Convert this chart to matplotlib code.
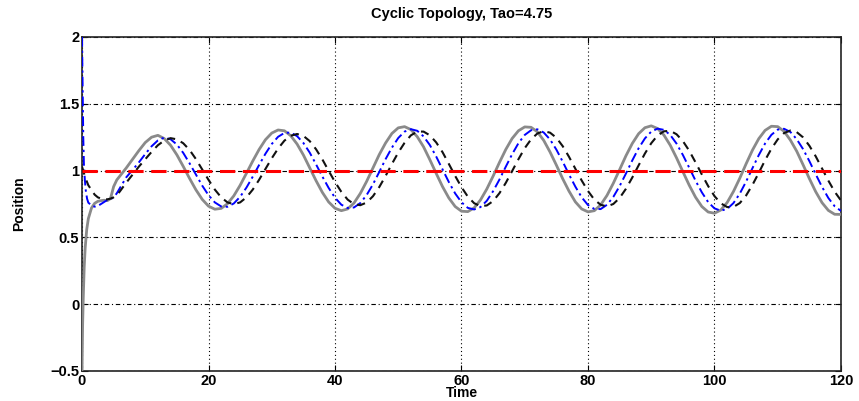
import matplotlib
matplotlib.use("Agg")
import matplotlib.pyplot as plt

plt.rcParams['font.family'] = ['Liberation Sans Narrow', 'Liberation Sans', 'DejaVu Sans']
plt.rcParams['axes.unicode_minus'] = True

# ---- data ----
time_main = list(range(8, 121))

time_early_gray = [0, 0.1, 0.2, 0.35, 0.5, 0.75, 1, 1.5, 2, 2.5, 3, 3.5, 4, 4.5, 5, 5.5, 6, 7]
pos_early_gray = [-0.5, -0.15, 0.05, 0.28, 0.42, 0.56, 0.64, 0.72, 0.755, 0.77, 0.775, 0.778,
                  0.775, 0.79, 0.88, 0.93, 0.96, 1.02]

time_early_blue = [0, 0.1, 0.2, 0.3, 0.45, 0.6, 0.8, 1, 1.5, 2, 2.5, 3, 3.5, 4, 4.5, 5, 5.5, 6, 7]
pos_early_blue = [2.0, 1.6, 1.25, 1.05, 0.93, 0.85, 0.79, 0.76, 0.74, 0.73, 0.735, 0.75, 0.765,
                  0.78, 0.785, 0.80, 0.83, 0.87, 0.95]

time_early_black = [0, 0.5, 1, 1.5, 2, 2.5, 3, 3.5, 4, 4.5, 5, 5.5, 6, 7]
pos_early_black = [1.03, 0.95, 0.89, 0.855, 0.82, 0.80, 0.79, 0.785, 0.785, 0.79, 0.80, 0.815,
                   0.845, 0.91]

pos_gray = [
    1.085, 1.150,
    1.210, 1.250, 1.264, 1.240, 1.190, 1.118, 1.032, 0.942, 0.857, 0.785,
    0.734, 0.711, 0.717, 0.752, 0.811, 0.890, 0.980, 1.072, 1.158, 1.231,
    1.281, 1.304, 1.298, 1.261, 1.199, 1.117, 1.021, 0.925, 0.837, 0.765,
    0.718, 0.700, 0.713, 0.757, 0.829, 0.919, 1.020, 1.120, 1.207, 1.278,
    1.320, 1.329, 1.307, 1.254, 1.178, 1.081, 0.979, 0.880, 0.795, 0.731,
    0.696, 0.693, 0.721, 0.780, 0.862, 0.959, 1.061, 1.158, 1.240, 1.298,
    1.327, 1.324, 1.290, 1.226, 1.139, 1.041, 0.939, 0.846, 0.766, 0.713,
    0.691, 0.700, 0.743, 0.814, 0.905, 1.007, 1.111, 1.203, 1.276, 1.321,
    1.335, 1.315, 1.266, 1.190, 1.095, 0.992, 0.891, 0.801, 0.731, 0.690,
    0.681, 0.705, 0.761, 0.844, 0.943, 1.051, 1.153, 1.239, 1.301, 1.332,
    1.329, 1.294, 1.228, 1.145, 1.044, 0.940, 0.842, 0.760, 0.702, 0.673,
    0.672,
]

pos_blue = [
    1.005, 1.062,
    1.124, 1.182, 1.226, 1.247, 1.235, 1.195, 1.133, 1.055, 0.971, 0.888,
    0.816, 0.762, 0.732, 0.729, 0.754, 0.804, 0.873, 0.955, 1.042, 1.126,
    1.199, 1.253, 1.282, 1.285, 1.258, 1.207, 1.135, 1.047, 0.956, 0.870,
    0.797, 0.745, 0.720, 0.724, 0.757, 0.817, 0.897, 0.990, 1.086, 1.172,
    1.244, 1.292, 1.310, 1.298, 1.256, 1.191, 1.105, 1.009, 0.914, 0.829,
    0.763, 0.721, 0.709, 0.727, 0.774, 0.846, 0.933, 1.029, 1.122, 1.205,
    1.267, 1.302, 1.309, 1.285, 1.233, 1.157, 1.067, 0.971, 0.880, 0.800,
    0.742, 0.713, 0.712, 0.744, 0.803, 0.884, 0.978, 1.076, 1.167, 1.241,
    1.292, 1.314, 1.305, 1.267, 1.202, 1.117, 1.022, 0.925, 0.837, 0.764,
    0.717, 0.700, 0.713, 0.757, 0.828, 0.918, 1.018, 1.116, 1.203, 1.268,
    1.307, 1.313, 1.289, 1.235, 1.161, 1.071, 0.973, 0.878, 0.795, 0.733,
    0.698,
]

pos_black = [
    0.970, 1.030,
    1.085, 1.140, 1.190, 1.225, 1.243, 1.234, 1.205, 1.155, 1.087, 1.009,
    0.931, 0.858, 0.800, 0.762, 0.749, 0.762, 0.800, 0.858, 0.931, 1.012,
    1.092, 1.165, 1.224, 1.261, 1.274, 1.260, 1.221, 1.160, 1.084, 0.998,
    0.915, 0.841, 0.783, 0.749, 0.741, 0.761, 0.808, 0.877, 0.960, 1.050,
    1.135, 1.208, 1.264, 1.292, 1.292, 1.264, 1.211, 1.138, 1.050, 0.960,
    0.876, 0.805, 0.756, 0.734, 0.739, 0.772, 0.831, 0.908, 0.996, 1.085,
    1.168, 1.234, 1.278, 1.295, 1.284, 1.246, 1.183, 1.103, 1.014, 0.926,
    0.847, 0.783, 0.744, 0.732, 0.750, 0.795, 0.864, 0.948, 1.039, 1.128,
    1.205, 1.263, 1.294, 1.298, 1.272, 1.221, 1.149, 1.062, 0.971, 0.884,
    0.809, 0.755, 0.727, 0.728, 0.757, 0.814, 0.893, 0.983, 1.078, 1.164,
    1.234, 1.281, 1.300, 1.288, 1.249, 1.186, 1.107, 1.016, 0.925, 0.842,
    0.776,
]

ref_time = [0, 120]
ref_pos = [1, 1]

x_ticks = [0, 20, 40, 60, 80, 100, 120]
y_ticks = [-0.5, 0, 0.5, 1, 1.5, 2]
y_tick_labels = ['\u22120.5', '0', '0.5', '1', '1.5', '2']

# ---- figure ----
fig = plt.figure(figsize=(8.59, 4.01), dpi=100)
ax = fig.add_axes([82 / 859, 1 - 371 / 401, 759 / 859, 334 / 401])

ax.plot(time_early_gray + time_main, pos_early_gray + pos_gray,
        color='#8a8a8a', lw=2.0, zorder=3)
ax.plot(time_early_blue + time_main, pos_early_blue + pos_blue,
        color='#0000ff', lw=1.4, linestyle=(0, (5, 2, 1.2, 2)), zorder=4)
ax.plot(time_early_black + time_main, pos_early_black + pos_black,
        color='#111111', lw=1.5, linestyle=(0, (4, 3)), zorder=5)
ax.plot(ref_time, ref_pos, color='#ff0000', lw=2.2, linestyle=(0, (5, 2.5)), zorder=6)

ax.set_xlim(0, 120)
ax.set_ylim(-0.5, 2)
ax.set_xticks(x_ticks)
ax.set_yticks(y_ticks)
ax.set_yticklabels(y_tick_labels)

ax.xaxis.grid(True, color='black', linestyle=(0, (1, 2.5)), lw=0.8)
ax.yaxis.grid(True, color='black', linestyle=(0, (4, 2.5, 1, 2.5)), lw=0.8)

ax.tick_params(direction='in', top=True, right=True, length=4, width=0.8,
               labelsize=10.5, pad=2)
for lab in ax.get_xticklabels() + ax.get_yticklabels():
    lab.set_fontweight('bold')
for sp in ax.spines.values():
    sp.set_linewidth(1.2)
    sp.set_color('#222222')

ax.set_title('Cyclic Topology, Tao=4.75', fontsize=10.5, fontweight='bold', pad=14)
ax.set_xlabel('Time', fontsize=10, fontweight='bold', labelpad=-1)
ax.set_ylabel('Position', fontsize=10, fontweight='bold', labelpad=17)

fig.savefig('out.png', dpi=100)
